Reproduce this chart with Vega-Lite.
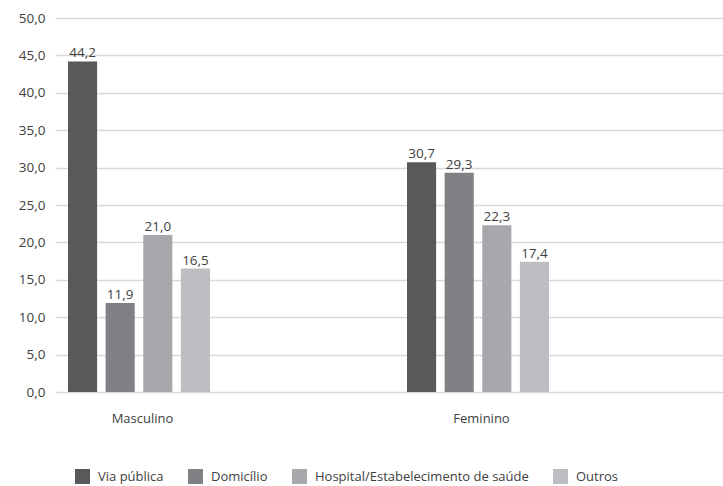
{
  "$schema": "https://vega.github.io/schema/vega-lite/v6.json",
  "width": 668,
  "height": 374,
  "autosize": "none",
  "padding": {"left": 55, "top": 18, "right": 0, "bottom": 94},
  "background": "white",
  "config": {
    "locale": {"number": {"decimal": ",", "thousands": ".", "grouping": [3], "currency": ["R$", ""]}},
    "view": {"stroke": null},
    "font": "Open Sans",
    "text": {"font": "Open Sans"}
  },
  "data": {
    "values": [
      {"sexo": "Masculino", "local": "Via pública", "pct": 44.2},
      {"sexo": "Masculino", "local": "Domicílio", "pct": 11.9},
      {"sexo": "Masculino", "local": "Hospital/Estabelecimento de saúde", "pct": 21.0},
      {"sexo": "Masculino", "local": "Outros", "pct": 16.5},
      {"sexo": "Feminino", "local": "Via pública", "pct": 30.7},
      {"sexo": "Feminino", "local": "Domicílio", "pct": 29.3},
      {"sexo": "Feminino", "local": "Hospital/Estabelecimento de saúde", "pct": 22.3},
      {"sexo": "Feminino", "local": "Outros", "pct": 17.4}
    ]
  },
  "encoding": {
    "x": {
      "field": "sexo",
      "type": "nominal",
      "sort": ["Masculino", "Feminino"],
      "scale": {"paddingInner": 0, "paddingOuter": 0, "range": [0, 678]},
      "axis": {
        "title": null,
        "domain": false,
        "ticks": false,
        "labelAngle": 0,
        "labelOffset": -82,
        "labelPadding": 20,
        "labelFontSize": 13,
        "labelColor": "#404040",
        "labelFont": "Open Sans"
      }
    },
    "xOffset": {
      "field": "local",
      "type": "nominal",
      "sort": ["Via pública", "Domicílio", "Hospital/Estabelecimento de saúde", "Outros"],
      "scale": {"range": [13, 155], "paddingInner": 0.227, "paddingOuter": 0}
    },
    "y": {
      "field": "pct",
      "type": "quantitative",
      "scale": {"domain": [0, 50], "nice": false},
      "axis": {
        "title": null,
        "values": [0, 5, 10, 15, 20, 25, 30, 35, 40, 45, 50],
        "format": ".1f",
        "domain": false,
        "ticks": false,
        "labelPadding": 10,
        "labelFontSize": 13.5,
        "labelColor": "#404040",
        "labelFont": "Open Sans",
        "gridColor": "#d9d9d9",
        "gridWidth": 1.5
      }
    }
  },
  "layer": [
    {
      "mark": {"type": "bar"},
      "encoding": {
        "color": {
          "field": "local",
          "type": "nominal",
          "sort": ["Via pública", "Domicílio", "Hospital/Estabelecimento de saúde", "Outros"],
          "scale": {
            "domain": ["Via pública", "Domicílio", "Hospital/Estabelecimento de saúde", "Outros"],
            "range": ["#58595b", "#808184", "#a7a8ab", "#bdbec1"]
          },
          "legend": {
            "title": null,
            "orient": "none",
            "legendX": 20,
            "legendY": 451,
            "direction": "horizontal",
            "columns": 4,
            "gridAlign": "none",
            "columnPadding": 24,
            "symbolType": "square",
            "symbolSize": 225,
            "symbolStrokeWidth": 0,
            "symbolOffset": 0,
            "labelOffset": 8,
            "labelFontSize": 13,
            "labelColor": "#404040",
            "labelFont": "Open Sans",
            "labelLimit": 400,
            "padding": 0
          }
        }
      }
    },
    {
      "mark": {"type": "text", "baseline": "bottom", "dy": -1, "fontSize": 13.5, "color": "#404040"},
      "encoding": {
        "text": {"field": "pct", "type": "quantitative", "format": ".1f"}
      }
    }
  ]
}
